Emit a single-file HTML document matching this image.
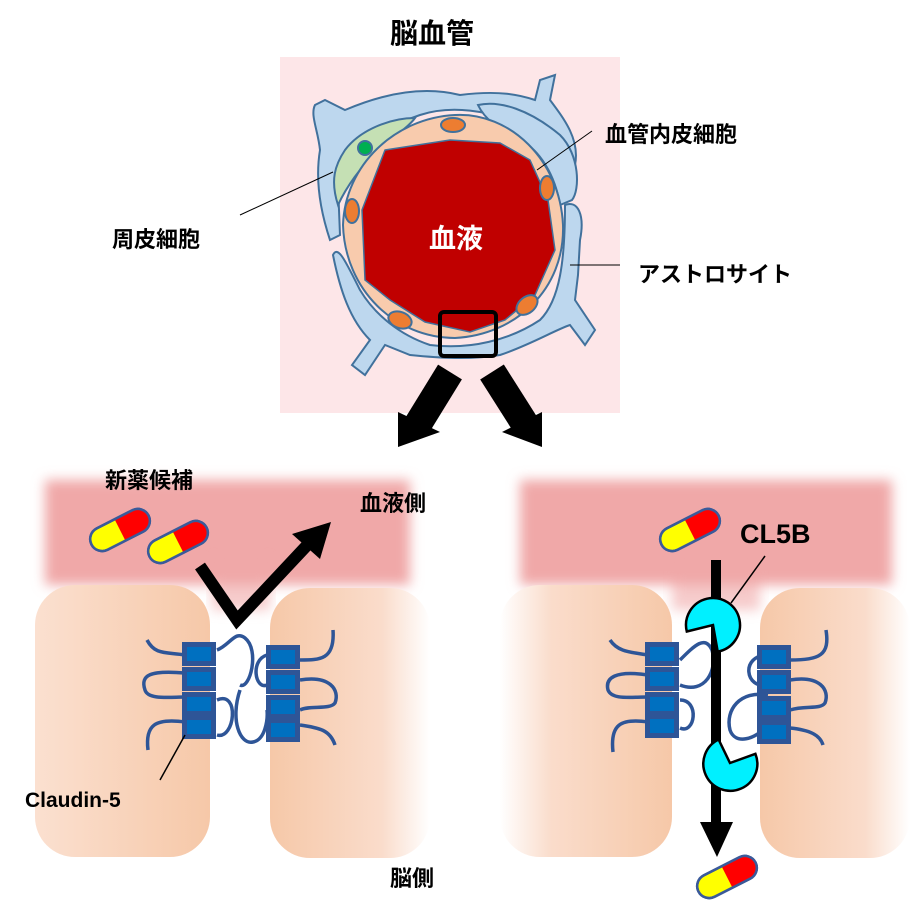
<!DOCTYPE html>
<html><head><meta charset="utf-8"><style>
html,body{margin:0;padding:0;background:#fff;}
svg{display:block;}
text{font-family:"Liberation Sans","Noto Sans CJK JP",sans-serif;font-weight:bold;}
</style></head><body>
<svg width="921" height="910" viewBox="0 0 921 910" xmlns="http://www.w3.org/2000/svg">
<defs>
<filter id="bl" x="-10%" y="-30%" width="120%" height="160%"><feGaussianBlur stdDeviation="6"/></filter>
<linearGradient id="cl" x1="0" x2="1"><stop offset="0" stop-color="#fbe0d0"/><stop offset="1" stop-color="#f6c8a8"/></linearGradient>
<linearGradient id="cr" x1="0" x2="1"><stop offset="0" stop-color="#f6c8a8"/><stop offset="0.7" stop-color="#fadccb"/><stop offset="1" stop-color="#ffffff"/></linearGradient>
<g id="pill"><rect x="-32" y="-12" width="64" height="24" rx="12" fill="#ffff00" stroke="#3a5a9a" stroke-width="2.5"/><path d="M0,-12 H20 A12,12 0 0 1 20,12 H0 Z" fill="#ff0000"/><rect x="-32" y="-12" width="64" height="24" rx="12" fill="none" stroke="#3a5a9a" stroke-width="2.5"/></g>
<g id="box"><rect x="0" y="0" width="34" height="24" fill="#2e5597"/><rect x="5" y="5" width="24" height="14" fill="#0070c0"/></g>
</defs>

<rect x="280" y="57" width="340" height="356" fill="#fde6e8"/>
<text x="432" y="43" font-size="28" text-anchor="middle">脳血管</text>

<g fill="#bdd7ee" stroke="#41719c" stroke-width="2">
<path d="M325,100 L345,110 C380,95 420,85 460,95 C500,90 520,95 535,100 L540,80 L555,75 L550,100 C565,120 580,140 575,165 L575,190 C560,180 545,150 520,125 C490,110 450,105 420,115 C390,125 360,145 345,170 L338,185 L340,235 L330,240 C320,210 315,180 320,150 C318,130 310,115 315,105 Z"/>
<path d="M478,105 C500,100 530,110 560,135 C580,155 580,190 572,200 L560,205 C555,175 540,150 520,140 C500,130 485,120 478,105 Z"/>
<path d="M565,205 C578,200 585,215 580,240 L578,275 L575,300 L595,330 L585,345 L570,325 C555,330 530,345 500,355 C470,360 440,358 410,355 L385,345 L365,375 L352,365 L370,340 C350,320 340,290 333,255 C338,245 345,260 360,290 C375,315 400,335 430,345 C470,350 510,340 540,320 C560,300 565,260 565,205 Z"/>
</g>
<path d="M415,118 C390,118 360,130 345,150 C335,165 330,180 338,205 C345,190 360,165 385,145 C400,132 410,125 415,118 Z" fill="#c5e0b4" stroke="#41719c" stroke-width="2"/>
<circle cx="365" cy="148" r="7" fill="#00b050" stroke="#41719c" stroke-width="2"/>
<path d="M455,115 C510,112 560,160 563,225 C565,290 515,335 455,338 C395,338 345,290 343,225 C345,165 395,118 455,115 Z" fill="#f8cbad" stroke="#41719c" stroke-width="2"/>
<path d="M385,150 L450,140 L500,143 L530,160 L548,200 L555,250 L535,295 L505,320 L470,332 L425,322 L390,300 L365,280 L362,210 Z" fill="#c00000" stroke="#41719c" stroke-width="1.5"/>
<text x="456" y="248" font-size="27" fill="#fff" text-anchor="middle">血液</text>
<g fill="#ed7d31" stroke="#41719c" stroke-width="2">
<ellipse cx="453" cy="125" rx="12" ry="7"/>
<ellipse cx="547" cy="188" rx="7" ry="12"/>
<ellipse cx="352" cy="211" rx="7" ry="12"/>
<ellipse cx="400" cy="320" rx="12" ry="8" transform="rotate(20 400 320)"/>
<ellipse cx="527" cy="305" rx="12" ry="8" transform="rotate(-40 527 305)"/>
</g>
<rect x="440" y="312" width="56" height="44" rx="4" fill="none" stroke="#000" stroke-width="4"/>
<g stroke="#000" stroke-width="1">
<line x1="240" y1="215" x2="333" y2="172"/>
<line x1="537" y1="170" x2="592" y2="131"/>
<line x1="570" y1="265" x2="620" y2="265"/>
</g>
<text x="605" y="142" font-size="22">血管内皮細胞</text>
<text x="112" y="247" font-size="22">周皮細胞</text>
<text x="638" y="282" font-size="22">アストロサイト</text>
<line x1="450" y1="372" x2="418" y2="424" stroke="#000" stroke-width="28"/>
<polygon points="398,447 398,412 440,432" fill="#000"/>
<line x1="492" y1="372" x2="525" y2="424" stroke="#000" stroke-width="28"/>
<polygon points="542,447 542,412 502,432" fill="#000"/>

<rect x="45" y="480" width="365" height="105" fill="#f0a8a8" filter="url(#bl)"/>
<rect x="212" y="560" width="58" height="50" fill="#f0a8a8" filter="url(#bl)" opacity="0.6"/>
<rect x="35" y="585" width="175" height="272" rx="40" fill="url(#cl)"/>
<rect x="270" y="588" width="160" height="270" rx="40" fill="url(#cr)"/>
<rect x="520" y="480" width="372" height="105" fill="#f0a8a8" filter="url(#bl)"/>
<rect x="672" y="560" width="88" height="50" fill="#f0a8a8" filter="url(#bl)" opacity="0.6"/>
<rect x="500" y="585" width="172" height="272" rx="40" fill="url(#cr)" transform="translate(1172 0) scale(-1 1)"/>
<rect x="760" y="588" width="150" height="270" rx="40" fill="url(#cr)"/>

<text x="105" y="488" font-size="22">新薬候補</text>
<text x="360" y="511" font-size="22">血液側</text>
<text x="25" y="807" font-size="21">Claudin-5</text>
<text x="390" y="886" font-size="22">脳側</text>
<text x="740" y="543" font-size="27">CL5B</text>

<use href="#pill" transform="translate(120 530) rotate(-27)"/>
<use href="#pill" transform="translate(178 542) rotate(-27)"/>
<use href="#pill" transform="translate(690 530) rotate(-27)"/>
<use href="#pill" transform="translate(727 877) rotate(-27)"/>

<g fill="none" stroke="#2e5597" stroke-width="3.5">
<path d="M147,640 C155,655 165,652 185,655"/>
<path d="M185,673 C150,670 140,675 145,690 C148,700 170,697 185,697"/>
<path d="M185,722 C155,718 145,725 148,750"/>
<path d="M217,650 C230,645 235,630 245,638 C260,650 250,690 240,685"/>
<path d="M217,700 C240,690 235,740 217,735"/>
<path d="M240,690 C230,720 240,745 253,742 C265,740 268,720 267,710"/>
<path d="M267,655 C250,660 255,690 267,685"/>
<path d="M300,660 C320,660 335,660 333,630"/>
<path d="M300,680 C330,675 340,690 335,703 C330,710 310,705 300,710"/>
<path d="M300,725 C320,728 330,730 335,745"/>
</g>
<use href="#box" x="182" y="642"/><use href="#box" x="182" y="667"/>
<use href="#box" x="182" y="692"/><use href="#box" x="182" y="715"/>
<use href="#box" x="266" y="645"/><use href="#box" x="266" y="670"/>
<use href="#box" x="266" y="695"/><use href="#box" x="266" y="718"/>
<line x1="185" y1="735" x2="160" y2="780" stroke="#000" stroke-width="1.5"/>

<g fill="none" stroke="#2e5597" stroke-width="3.5">
<path d="M610,640 C618,652 630,652 648,655"/>
<path d="M648,675 C615,670 605,678 608,690 C612,700 630,697 648,697"/>
<path d="M648,722 C620,718 610,725 613,752"/>
<path d="M680,660 C695,645 705,635 712,650 C718,670 705,695 680,685"/>
<path d="M680,700 C700,700 695,735 680,728"/>
<path d="M768,655 C740,655 745,690 768,685"/>
<path d="M768,695 C740,690 725,710 730,730 C735,745 755,740 768,725"/>
<path d="M790,660 C820,660 830,655 826,630"/>
<path d="M790,680 C820,675 830,690 825,703 C820,710 805,705 790,710"/>
<path d="M790,728 C810,730 820,735 823,745"/>
</g>
<use href="#box" x="645" y="642"/><use href="#box" x="645" y="667"/>
<use href="#box" x="645" y="692"/><use href="#box" x="645" y="714"/>
<use href="#box" x="757" y="645"/><use href="#box" x="757" y="670"/>
<use href="#box" x="757" y="696"/><use href="#box" x="757" y="720"/>

<polyline points="200,566 237,620 312,540" fill="none" stroke="#000" stroke-width="12"/>
<polygon points="331,522 320,559 292,534" fill="#000"/>

<line x1="716" y1="560" x2="716" y2="826" stroke="#000" stroke-width="10"/>
<polygon points="700,822 733,822 717,857" fill="#000"/>
<path d="M686.8,631.5 L713,625 L717.7,651.6 A27,27 0 1 0 686.8,631.5 Z" fill="#00f0ff" stroke="#000" stroke-width="2.5"/>
<path d="M718.6,739.5 L730,763 L755.4,753.8 A27,27 0 1 1 718.6,739.5 Z" fill="#00f0ff" stroke="#000" stroke-width="2.5"/>
<line x1="731" y1="603" x2="765" y2="556" stroke="#000" stroke-width="1.5"/>
</svg>
</body></html>
